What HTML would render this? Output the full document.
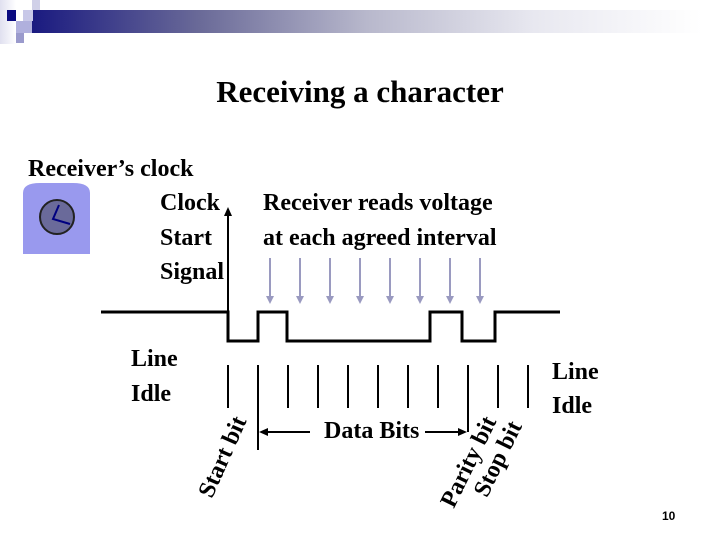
<!DOCTYPE html>
<html><head><style>
body{margin:0;width:720px;height:540px;background:#fff;overflow:hidden;position:relative;font-family:"Liberation Serif",serif;font-weight:bold;color:#000}
.t{position:absolute;font-size:24px;line-height:1;white-space:nowrap}
</style></head><body>
<div style="position:absolute;left:0;top:0;width:16px;height:44px;background:linear-gradient(90deg,#e0e0f0,#fff)"></div>
<div style="position:absolute;left:32px;top:10px;width:670px;height:23px;background:linear-gradient(90deg,#1a1a80,#6a6a98 25%,#b8b8cc 50%,#e8e8f0 75%,#fff)"></div>
<div style="position:absolute;left:7px;top:10px;width:9px;height:11px;background:#0a0a80"></div>
<div style="position:absolute;left:23px;top:10px;width:10px;height:11px;background:#c8c8e8"></div>
<div style="position:absolute;left:32px;top:0px;width:8px;height:10px;background:#d0d0e8"></div>
<div style="position:absolute;left:16px;top:21px;width:16px;height:12px;background:#b0b0dd"></div>
<div style="position:absolute;left:16px;top:33px;width:8px;height:10px;background:#9a9acc"></div>
<div class="t" style="left:0;width:720px;text-align:center;top:76px;font-size:31px">Receiving a character</div>
<div class="t" style="left:28px;top:157px">Receiver’s clock</div>
<div class="t" style="left:160px;top:191px">Clock</div>
<div class="t" style="left:160px;top:226px">Start</div>
<div class="t" style="left:160px;top:260px">Signal</div>
<div class="t" style="left:263px;top:191px">Receiver reads voltage</div>
<div class="t" style="left:263px;top:226px">at each agreed interval</div>
<div class="t" style="left:131px;top:347px">Line</div>
<div class="t" style="left:131px;top:382px">Idle</div>
<div class="t" style="left:552px;top:360px">Line</div>
<div class="t" style="left:552px;top:394px">Idle</div>
<div class="t" style="left:324px;top:419px">Data Bits</div>
<div class="t" style="left:662px;top:510px;font-size:12px;font-family:'Liberation Sans',sans-serif">10</div>
<div class="t" style="left:180px;top:445px;transform:rotate(-66deg);transform-origin:center">Start bit</div>
<div class="t" style="left:420px;top:450px;transform:rotate(-64deg);transform-origin:center">Parity bit</div>
<div class="t" style="left:458px;top:447px;transform:rotate(-64deg);transform-origin:center">Stop bit</div>
<svg width="720" height="540" style="position:absolute;left:0;top:0">
<path d="M23,254 V193 Q23,183 40,183 H73 Q90,183 90,193 V254 Z" fill="#9999ee"/>
<circle cx="57" cy="217" r="17" fill="#6a6a9a" stroke="#222" stroke-width="2"/>
<path d="M59,205 L53,219 L70,224" fill="none" stroke="#000080" stroke-width="2"/>
<polyline points="101,312 228,312 228,341 258,341 258,312 287,312 287,341 430,341 430,312 462,312 462,341 495,341 495,312 560,312" fill="none" stroke="#000" stroke-width="3"/>
<line x1="228" y1="312" x2="228" y2="214" stroke="#000" stroke-width="2"/>
<path d="M224,216 L228,207 L232,216 Z"/>
<g stroke="#9a9ac0" stroke-width="2">
<line x1="270" y1="258" x2="270" y2="298"/><line x1="300" y1="258" x2="300" y2="298"/><line x1="330" y1="258" x2="330" y2="298"/><line x1="360" y1="258" x2="360" y2="298"/><line x1="390" y1="258" x2="390" y2="298"/><line x1="420" y1="258" x2="420" y2="298"/><line x1="450" y1="258" x2="450" y2="298"/><line x1="480" y1="258" x2="480" y2="298"/>
</g>
<g fill="#9a9ac0">
<path d="M266,296 L270,304 L274,296Z"/><path d="M296,296 L300,304 L304,296Z"/><path d="M326,296 L330,304 L334,296Z"/><path d="M356,296 L360,304 L364,296Z"/><path d="M386,296 L390,304 L394,296Z"/><path d="M416,296 L420,304 L424,296Z"/><path d="M446,296 L450,304 L454,296Z"/><path d="M476,296 L480,304 L484,296Z"/>
</g>
<g stroke="#000" stroke-width="2">
<line x1="228" y1="365" x2="228" y2="408"/><line x1="258" y1="365" x2="258" y2="450"/><line x1="288" y1="365" x2="288" y2="408"/><line x1="318" y1="365" x2="318" y2="408"/><line x1="348" y1="365" x2="348" y2="408"/><line x1="378" y1="365" x2="378" y2="408"/><line x1="408" y1="365" x2="408" y2="408"/><line x1="438" y1="365" x2="438" y2="408"/><line x1="468" y1="365" x2="468" y2="432"/><line x1="498" y1="365" x2="498" y2="408"/><line x1="528" y1="365" x2="528" y2="408"/>
<line x1="262" y1="432" x2="310" y2="432"/><line x1="425" y1="432" x2="462" y2="432"/>
</g>
<path d="M259,432 L268,428 L268,436Z"/><path d="M467,432 L458,428 L458,436Z"/>
</svg>
</body></html>
